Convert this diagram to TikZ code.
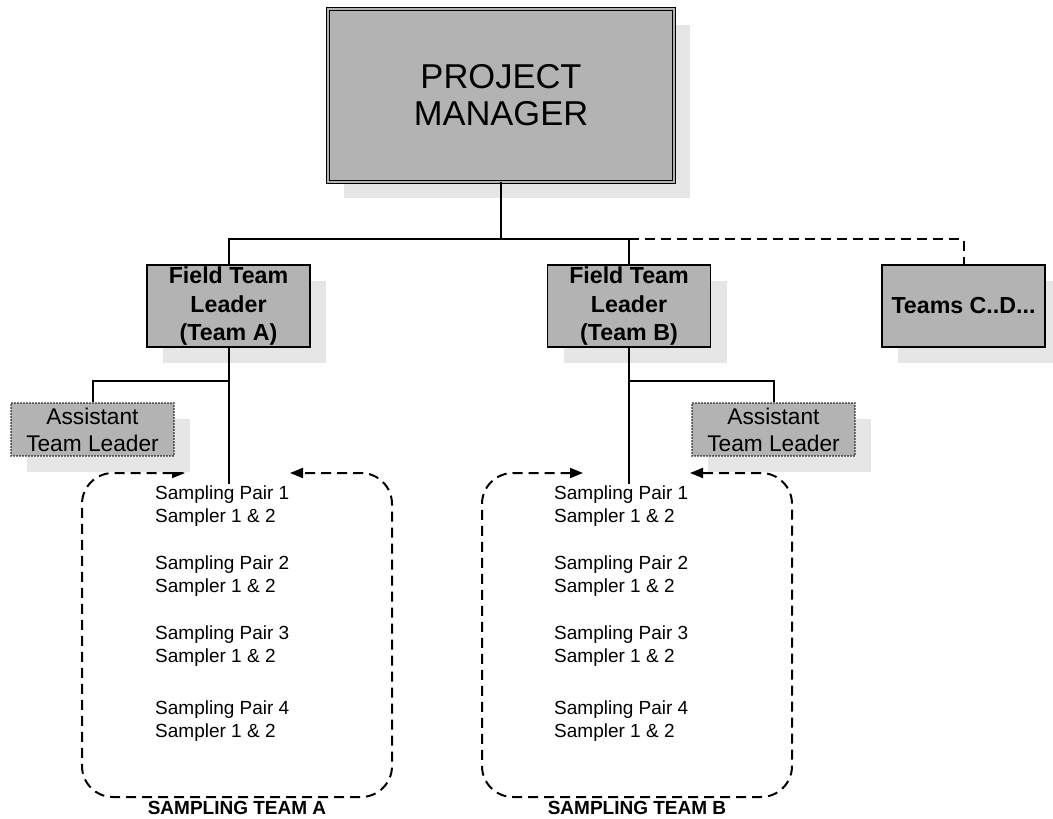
\documentclass[tikz,border=0pt]{standalone}
\usepackage{fontspec}
\setmainfont{Liberation Sans}
\usetikzlibrary{arrows.meta, positioning, shadows}
\definecolor{color_box}{RGB}{179,179,179}
\definecolor{color_shade}{RGB}{230,230,230}

\begin{document}
\begin{tikzpicture}[x=1pt, y=-1pt,
box/.style={draw=black, line width=1.2pt, fill=color_box, align=center, inner sep=0pt,
  drop shadow={shadow xshift=16pt, shadow yshift=-16pt, fill=color_shade, opacity=1}},
leader/.style={box, minimum width=163pt, minimum height=82pt,
  font=\bfseries\fontsize{23.2}{28.5}\selectfont},
assistant/.style={box, line width=1.6pt, line cap=round, dash pattern=on 0pt off 3pt,
  minimum width=163pt, minimum height=53pt, font=\fontsize{22.7}{27}\selectfont},
link/.style={line width=2pt},
crew/.style={line width=2pt, dash pattern=on 10pt off 6pt, rounded corners=31pt,
  {Triangle[length=13pt,width=10pt]}-{Triangle[length=13pt,width=10pt]}},
pairs/.style={align=left, inner sep=0pt, anchor=north west, font=\fontsize{19}{23.5}\selectfont},
caption/.style={font=\bfseries\fontsize{19}{22}\selectfont}]
\useasboundingbox (0,0) rectangle (1053,819);
% SAMPLING TEAMS
\draw[crew] (185,473) -- (82,473) -- (82,797) -- (392,797) -- (392,473) -- (290,473);
\draw[crew] (583,473) -- (482,473) -- (482,797) -- (792,797) -- (792,473) -- (690,473);
% PROJECT MANAGER
\node[box, minimum width=346pt, minimum height=173pt, line width=1pt,
  double=color_box, double distance=2pt, font=\fontsize{34.5}{37}\selectfont]
  (pm) at (501,95) {PROJECT\\MANAGER};
% FIELD TEAMS
\node[leader] (ftla) at (228.5,306) {Field Team\\Leader\\(Team A)};
\node[leader] (ftlb) at (629,306) {Field Team\\Leader\\(Team B)};
\node[leader] (teams) at (963.5,306) {Teams C..D...};
% ASSISTANTS
\node[assistant] (asta) at (92.5,429.5) {Assistant\\Team Leader};
\node[assistant] (astb) at (773.5,429.5) {Assistant\\Team Leader};
% PAIRS
\node[pairs] (lista) at (155,485.5) {Sampling Pair 1\\Sampler 1 \& 2\\[23pt]Sampling Pair 2\\Sampler 1 \& 2\\[23pt]%
  Sampling Pair 3\\Sampler 1 \& 2\\[28pt]Sampling Pair 4\\Sampler 1 \& 2};
\node[pairs] (listb) at (554,485.5) {Sampling Pair 1\\Sampler 1 \& 2\\[23pt]Sampling Pair 2\\Sampler 1 \& 2\\[23pt]%
  Sampling Pair 3\\Sampler 1 \& 2\\[28pt]Sampling Pair 4\\Sampler 1 \& 2};
\node[caption] (capa) at (237,808) {SAMPLING TEAM A};
\node[caption] (capb) at (637,808) {SAMPLING TEAM B};
% CONNECTORS
\draw[link] (pm.south) -- (pm.south |- 0,239) coordinate (hub);
\draw[link] (hub) -| (ftla.north);
\draw[link] (hub) -| (ftlb.north);
\draw[link, dash pattern=on 10pt off 6pt] (ftlb.north |- hub) -| (teams.north);
\draw[link] (ftla.south) -- (ftla.south |- 0,484) coordinate (enda);
\draw[link] (ftla.south |- 0,381) -| (asta.north);
\draw[link] (ftlb.south) -- (ftlb.south |- 0,484) coordinate (endb);
\draw[link] (ftlb.south |- 0,381) -| (astb.north);
\end{tikzpicture}
\end{document}
